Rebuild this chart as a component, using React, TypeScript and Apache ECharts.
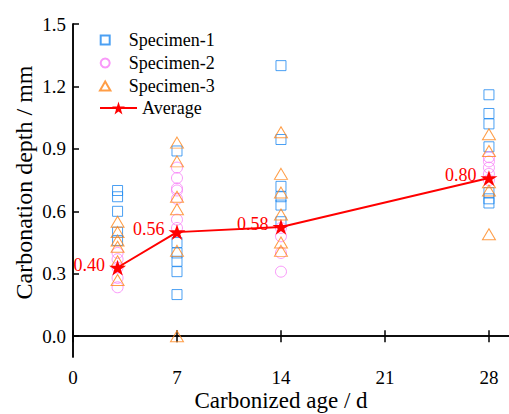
import React, { useEffect, useRef } from "react";
import * as echarts from "echarts";

const days = [3, 7, 14, 28];
const specimen1 = [
  [0.70, 0.67, 0.60, 0.50, 0.46],
  [0.89, 0.45, 0.40, 0.36, 0.31, 0.20],
  [1.30, 0.945, 0.72, 0.67, 0.63, 0.55],
  [1.16, 1.07, 1.02, 0.91, 0.69, 0.66, 0.64],
];
const specimen2 = [
  [0.40, 0.37, 0.33, 0.28, 0.235],
  [0.81, 0.76, 0.71, 0.70, 0.66, 0.56, 0.52],
  [0.52, 0.48, 0.40, 0.31],
  [0.86, 0.84, 0.81, 0.78, 0.75],
];
const specimen3 = [
  [0.55, 0.50, 0.46, 0.43, 0.36, 0.27],
  [0.93, 0.84, 0.67, 0.61, 0.41, 0.0],
  [0.98, 0.78, 0.69, 0.585, 0.45, 0.41],
  [0.97, 0.89, 0.74, 0.70, 0.49],
];
const average = [0.33, 0.5, 0.525, 0.76];
const avgLabels = ["0.40", "0.56", "0.58", "0.80"];
const xTicks = [0, 7, 14, 21, 28];
const yTicks = [0, 0.3, 0.6, 0.9, 1.2, 1.5];

const FONT = "'Liberation Serif', 'Times New Roman', 'DejaVu Serif', serif";
const STAR =
  "path://M50,0 L61.8,35.4 L100,35.4 L69.1,57.3 L80.9,92.7 L50,70.8 L19.1,92.7 L30.9,57.3 L0,35.4 L38.2,35.4 Z";
const ICON_SQUARE = "path://M0,0L10,0L10,10L0,10Z";
const ICON_CIRCLE = "path://M5,0A5,5,0,1,1,4.999,0Z";
const ICON_TRIANGLE = "path://M5,0L10,8.66L0,8.66Z";

function toPoints(groups: number[][]) {
  const out: number[][] = [];
  groups.forEach((vals, i) => vals.forEach((v) => out.push([days[i], v])));
  return out;
}

export default function App() {
  const ref = useRef<HTMLDivElement>(null);
  useEffect(() => {
    const chart = echarts.init(ref.current!, undefined, { renderer: "svg" });
    const axisLine = { show: true, lineStyle: { color: "#000", width: 1.5 } };
    chart.setOption({
      animation: false,
      backgroundColor: "#fff",
      textStyle: { fontFamily: FONT },
      grid: { left: 73, top: 24, bottom: 57, right: 0, outerBoundsMode: "none", containLabel: false },
      legend: [
        {
          data: [
            { name: "Specimen-1", icon: ICON_SQUARE },
            { name: "Specimen-2", icon: ICON_CIRCLE },
            { name: "Specimen-3", icon: ICON_TRIANGLE },
          ],
          orient: "vertical",
          left: 99,
          top: 31,
          padding: 0,
          itemWidth: 37,
          itemHeight: 9,
          itemGap: 5,
          selectedMode: false,
          textStyle: { fontFamily: FONT, fontSize: 18, color: "#000" },
        },
        {
          data: ["Average"],
          orient: "vertical",
          left: 99,
          top: 99,
          padding: 0,
          itemWidth: 37,
          itemHeight: 16,
          selectedMode: false,
          textStyle: { fontFamily: FONT, fontSize: 18, color: "#000" },
        },
      ],
      xAxis: [
        {
          type: "value",
          min: 0,
          max: 29.35,
          position: "bottom",
          name: "Carbonized age / d",
          nameLocation: "middle",
          nameGap: 32,
          nameMoveOverlap: false,
          nameTextStyle: { fontFamily: FONT, fontSize: 23, color: "#000", padding: [0, 20, 0, 0] },
          axisLine,
          splitLine: { show: false },
          axisTick: { inside: true, length: 6, customValues: xTicks, lineStyle: { color: "#000", width: 1.5 } },
          axisLabel: { customValues: xTicks, fontFamily: FONT, fontSize: 19, color: "#000", margin: 11 },
        },
        {
          type: "value",
          min: 0,
          max: 29.35,
          position: "top",
          axisLine,
          splitLine: { show: false },
          axisTick: { inside: true, length: 6, customValues: xTicks, lineStyle: { color: "#000", width: 1.5 } },
          axisLabel: { show: false },
        },
      ],
      yAxis: [
        {
          type: "value",
          min: -0.1,
          max: 1.5,
          position: "left",
          name: "Carbonation depth / mm",
          nameLocation: "middle",
          nameGap: 37,
          nameMoveOverlap: false,
          nameTextStyle: { fontFamily: FONT, fontSize: 24, color: "#000", padding: [0, 0, 0, 16] },
          axisLine,
          splitLine: { show: false },
          axisTick: { inside: true, length: 6, customValues: yTicks, lineStyle: { color: "#000", width: 1.5 } },
          axisLabel: {
            customValues: yTicks,
            fontFamily: FONT,
            fontSize: 19,
            color: "#000",
            margin: 7,
            formatter: (v: number) => v.toFixed(1),
          },
        },
        {
          type: "value",
          min: -0.1,
          max: 1.5,
          position: "right",
          axisLine,
          splitLine: { show: false },
          axisTick: { show: false },
          axisLabel: { show: false },
        },
      ],
      series: [
        {
          name: "Specimen-1",
          type: "scatter",
          symbol: "rect",
          symbolSize: 10,
          itemStyle: { color: "transparent", borderColor: "#1E88F0", borderWidth: 1 },
          data: toPoints(specimen1),
        },
        {
          name: "Specimen-2",
          type: "scatter",
          symbol: "circle",
          symbolSize: 11,
          itemStyle: { color: "transparent", borderColor: "#F77FF7", borderWidth: 1 },
          data: toPoints(specimen2),
        },
        {
          name: "Specimen-3",
          type: "scatter",
          symbol: "triangle",
          symbolSize: [13, 11],
          itemStyle: { color: "transparent", borderColor: "#FF8418", borderWidth: 1 },
          data: toPoints(specimen3),
        },
        {
          name: "Average",
          type: "line",
          symbol: STAR,
          symbolSize: 17,
          symbolKeepAspect: true,
          lineStyle: { color: "#FF0000", width: 2 },
          itemStyle: { color: "#FF0000" },
          data: days.map((d, i) => [d, average[i]]),
          label: {
            show: true,
            position: "left",
            distance: 4,
            offset: [0, -3],
            color: "#FF0000",
            fontFamily: FONT,
            fontSize: 18,
            formatter: (p: any) => avgLabels[p.dataIndex],
          },
          z: 5,
        },
      ],
    });
    return () => chart.dispose();
  }, []);
  return (
    <div
      ref={ref}
      style={{ position: "fixed", left: 0, top: 0, width: 509, height: 414 }}
    />
  );
}
